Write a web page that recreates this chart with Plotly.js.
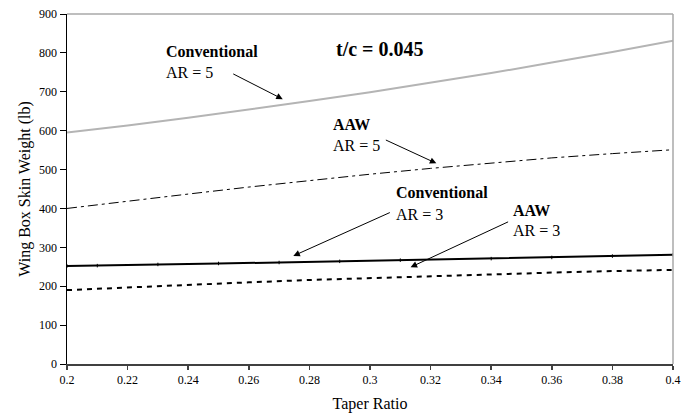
<!DOCTYPE html>
<html>
<head>
<meta charset="utf-8">
<script src="https://cdn.plot.ly/plotly-3.0.1.min.js"></script>
<style>html,body{margin:0;padding:0;background:#fff;} #chart{width:697px;height:419px;}</style>
</head>
<body>
<div id="chart"></div>
<script>
// Taper ratio (x) values
const taperRatio = [0.20, 0.22, 0.24, 0.26, 0.28, 0.30, 0.32, 0.34, 0.36, 0.38, 0.40];
// Conventional, AR = 5
const convAR5 = [595, 613, 633, 654, 676, 699, 723, 748, 775, 802, 831];
// AAW, AR = 5
const aawAR5 = [400, 419, 437, 455, 472, 488, 503, 517, 530, 541, 551];
// Conventional, AR = 3 (data points with markers)
const convAR3X = [0.20, 0.21, 0.23, 0.25, 0.27, 0.29, 0.31, 0.34, 0.36, 0.38, 0.40];
const convAR3 = [252, 253, 256, 258.5, 261, 264, 267, 271, 274, 277.5, 281];
// AAW, AR = 3
const aawAR3 = [190, 197, 204, 210, 216, 221, 226, 231, 235, 239, 242];

const xTicks = [0.2, 0.22, 0.24, 0.26, 0.28, 0.3, 0.32, 0.34, 0.36, 0.38, 0.4];
const xTickText = ['0.2', '0.22', '0.24', '0.26', '0.28', '0.3', '0.32', '0.34', '0.36', '0.38', '0.4'];
const yTicks = [0, 100, 200, 300, 400, 500, 600, 700, 800, 900];

const serif = 'Liberation Serif';

const traces = [
  {x: taperRatio, y: convAR5, type: 'scatter', mode: 'lines',
   line: {color: '#b4b4b4', width: 2}, hoverinfo: 'skip'},
  {x: taperRatio, y: aawAR5, type: 'scatter', mode: 'lines',
   line: {color: '#000', width: 1, dash: '10px,4px,3px,4px'}, hoverinfo: 'skip'},
  {x: convAR3X, y: convAR3, type: 'scatter', mode: 'lines+markers',
   line: {color: '#000', width: 2},
   marker: {symbol: 'line-ns-open', size: 2.5, color: '#000', line: {width: 1, color: '#000'}},
   hoverinfo: 'skip'},
  {x: taperRatio, y: aawAR3, type: 'scatter', mode: 'lines',
   line: {color: '#000', width: 2, dash: '5px,5px'}, hoverinfo: 'skip'}
];

function label(x, y, text, size) {
  return {x: x, y: y, xref: 'x', yref: 'y', text: text, showarrow: false,
          xanchor: 'left', yanchor: 'middle', borderpad: 0,
          font: {family: serif, size: size || 16, color: '#000'}};
}
function arrow(x, y, ax, ay) {
  return {x: x, y: y, xref: 'x', yref: 'y', text: '', showarrow: true,
          ax: ax, ay: ay, arrowhead: 2, arrowsize: 1.3, arrowwidth: 1, arrowcolor: '#000'};
}

const layout = {
  width: 697, height: 419,
  margin: {l: 67, r: 24, t: 14, b: 55},
  paper_bgcolor: '#fff', plot_bgcolor: '#fff',
  showlegend: false,
  font: {family: serif, color: '#000'},
  xaxis: {
    range: [0.2, 0.4], tickvals: xTicks, ticktext: xTickText,
    showgrid: false, zeroline: false, showline: true, linecolor: '#404040', linewidth: 1.5,
    ticks: 'outside', ticklen: 4, tickcolor: '#404040', tickwidth: 1.5,
    tickfont: {family: serif, size: 12, color: '#000'},
    title: {text: 'Taper Ratio', font: {family: serif, size: 16, color: '#000'}, standoff: 12}
  },
  yaxis: {
    range: [0, 900], tickvals: yTicks,
    showgrid: false, zeroline: false, showline: true, linecolor: '#000', linewidth: 1.5,
    ticks: 'outside', ticklen: 6, tickcolor: '#000', tickwidth: 1,
    tickfont: {family: serif, size: 12, color: '#000'},
    title: {text: 'Wing Box Skin Weight (lb)', font: {family: serif, size: 16, color: '#000'}, standoff: 4}
  },
  shapes: [
    {type: 'line', xref: 'paper', yref: 'paper', x0: 0, x1: 1, y0: 1, y1: 1,
     line: {color: '#a8a8a8', width: 1.5}},
    {type: 'line', xref: 'paper', yref: 'paper', x0: 1, x1: 1, y0: 0, y1: 1,
     line: {color: '#a8a8a8', width: 1.5}}
  ],
  annotations: [
    label(0.2324, 803, '<b>Conventional</b>'),
    label(0.2324, 749, 'AR = 5'),
    label(0.2885, 810, '<b>t/c = 0.045</b>', 20),
    label(0.2874, 615, '<b>AAW</b>'),
    label(0.2874, 563, 'AR = 5'),
    label(0.3082, 440, '<b>Conventional</b>'),
    label(0.3082, 385, 'AR = 3'),
    label(0.3468, 396, '<b>AAW</b>'),
    label(0.3468, 343, 'AR = 3'),
    arrow(0.2712, 681, -51, -26),
    arrow(0.3219, 516, -52, -24),
    arrow(0.2747, 278, 98, -44),
    arrow(0.3134, 249, 99, -46)
  ]
};

Plotly.newPlot('chart', traces, layout, {displayModeBar: false, staticPlot: true});
</script>
</body>
</html>
